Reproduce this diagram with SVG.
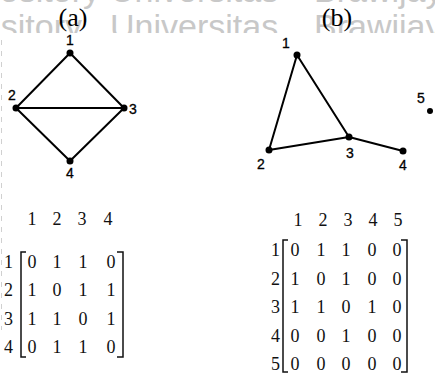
<svg xmlns="http://www.w3.org/2000/svg" width="435" height="374" viewBox="0 0 435 374">
<defs>
<style>
.wm{font-family:"Liberation Sans",Arial,sans-serif;font-size:34px;fill:#c8c8c8}
.cap{font-family:"Liberation Serif","Times New Roman",serif;font-size:26px;fill:#000;text-anchor:middle}
.lbl{font-family:"Liberation Sans",Arial,sans-serif;font-size:14px;fill:#000;stroke:#000;stroke-width:0.3;text-anchor:middle}
.mx{font-family:"Liberation Serif","Times New Roman",serif;font-size:18px;fill:#111;text-anchor:middle}
.rl{font-family:"Liberation Serif","Times New Roman",serif;font-size:18px;fill:#111;text-anchor:end}
.edge{stroke:#000;stroke-width:2;fill:none;stroke-linecap:round}
.dot{fill:#000}
.br{stroke:#111;stroke-width:1.5;fill:none}
</style>
<clipPath id="wmclip"><rect x="0" y="0" width="435" height="33"/></clipPath>
</defs>
<rect width="435" height="374" fill="#fff"/>
<g id="watermark" clip-path="url(#wmclip)">
<text class="wm" x="100" y="2" text-anchor="end">Repository</text>
<text class="wm" x="110" y="2">Universitas</text>
<text class="wm" x="314" y="2">Brawijaya</text>
<text class="wm" x="82" y="38" text-anchor="end">Repository</text>
<text class="wm" x="110" y="38">Universitas</text>
<text class="wm" x="314" y="38">Brawijaya</text>
</g>
<line x1="1.5" y1="40" x2="1.5" y2="330" stroke="#d0d0d0" stroke-width="1" stroke-dasharray="5 6"/>
<text class="cap" x="73" y="26">(a)</text>
<text class="cap" x="337" y="26">(b)</text>
<g id="connectors">
<line class="edge" x1="70" y1="53" x2="16" y2="108"/>
<line class="edge" x1="70" y1="53" x2="124" y2="108"/>
<line class="edge" x1="16" y1="108" x2="124" y2="108"/>
<line class="edge" x1="16" y1="108" x2="70" y2="161"/>
<line class="edge" x1="124" y1="108" x2="70" y2="161"/>
<line class="edge" x1="297" y1="55" x2="269" y2="150"/>
<line class="edge" x1="297" y1="55" x2="349" y2="137"/>
<line class="edge" x1="269" y1="150" x2="349" y2="137"/>
<line class="edge" x1="349" y1="137" x2="403" y2="151"/>
</g>
<g id="a-node1"><circle class="dot" cx="70" cy="53" r="3.5"/><text class="lbl" x="70" y="45">1</text></g>
<g id="a-node2"><circle class="dot" cx="16" cy="108" r="3.5"/><text class="lbl" x="12" y="100">2</text></g>
<g id="a-node3"><circle class="dot" cx="124" cy="108" r="3.5"/><text class="lbl" x="133" y="114">3</text></g>
<g id="a-node4"><circle class="dot" cx="70" cy="161" r="3.5"/><text class="lbl" x="70" y="178">4</text></g>
<g id="b-node1"><circle class="dot" cx="297" cy="55" r="3.5"/><text class="lbl" x="286" y="48">1</text></g>
<g id="b-node2"><circle class="dot" cx="269" cy="150" r="3.5"/><text class="lbl" x="261" y="169">2</text></g>
<g id="b-node3"><circle class="dot" cx="349" cy="137" r="3.5"/><text class="lbl" x="350" y="158">3</text></g>
<g id="b-node4"><circle class="dot" cx="403" cy="151" r="3.5"/><text class="lbl" x="403" y="170">4</text></g>
<g id="b-node5"><circle class="dot" cx="430" cy="111" r="3"/><text class="lbl" x="421" y="103">5</text></g>
<g id="matrix-a">
<text class="mx" x="32" y="225">1</text><text class="mx" x="57" y="225">2</text><text class="mx" x="82" y="225">3</text><text class="mx" x="108" y="225">4</text>
<text class="rl" x="13" y="268">1</text><text class="rl" x="13" y="296">2</text><text class="rl" x="13" y="325">3</text><text class="rl" x="13" y="353">4</text>
<path class="br" d="M26 252 H21 V357 H26 M117 252 H123 V357 H117"/>
<text class="mx" x="32" y="268">0</text><text class="mx" x="57" y="268">1</text><text class="mx" x="83" y="268">1</text><text class="mx" x="111" y="268">0</text>
<text class="mx" x="32" y="296">1</text><text class="mx" x="57" y="296">0</text><text class="mx" x="83" y="296">1</text><text class="mx" x="111" y="296">1</text>
<text class="mx" x="32" y="325">1</text><text class="mx" x="57" y="325">1</text><text class="mx" x="83" y="325">0</text><text class="mx" x="111" y="325">1</text>
<text class="mx" x="32" y="353">0</text><text class="mx" x="57" y="353">1</text><text class="mx" x="83" y="353">1</text><text class="mx" x="111" y="353">0</text>
</g>
<g id="matrix-b">
<text class="mx" x="298" y="226">1</text><text class="mx" x="323" y="226">2</text><text class="mx" x="348" y="226">3</text><text class="mx" x="373" y="226">4</text><text class="mx" x="398" y="226">5</text>
<text class="rl" x="280" y="256">1</text><text class="rl" x="280" y="285">2</text><text class="rl" x="280" y="313">3</text><text class="rl" x="280" y="342">4</text><text class="rl" x="280" y="370">5</text>
<path class="br" d="M288 240 H283 V372 H288 M401 240 H407 V372 H401"/>
<text class="mx" x="295" y="256">0</text><text class="mx" x="321" y="256">1</text><text class="mx" x="346" y="256">1</text><text class="mx" x="372" y="256">0</text><text class="mx" x="397" y="256">0</text>
<text class="mx" x="295" y="285">1</text><text class="mx" x="321" y="285">0</text><text class="mx" x="346" y="285">1</text><text class="mx" x="372" y="285">0</text><text class="mx" x="397" y="285">0</text>
<text class="mx" x="295" y="313">1</text><text class="mx" x="321" y="313">1</text><text class="mx" x="346" y="313">0</text><text class="mx" x="372" y="313">1</text><text class="mx" x="397" y="313">0</text>
<text class="mx" x="295" y="342">0</text><text class="mx" x="321" y="342">0</text><text class="mx" x="346" y="342">1</text><text class="mx" x="372" y="342">0</text><text class="mx" x="397" y="342">0</text>
<text class="mx" x="295" y="370">0</text><text class="mx" x="321" y="370">0</text><text class="mx" x="346" y="370">0</text><text class="mx" x="372" y="370">0</text><text class="mx" x="397" y="370">0</text>
</g>
</svg>
